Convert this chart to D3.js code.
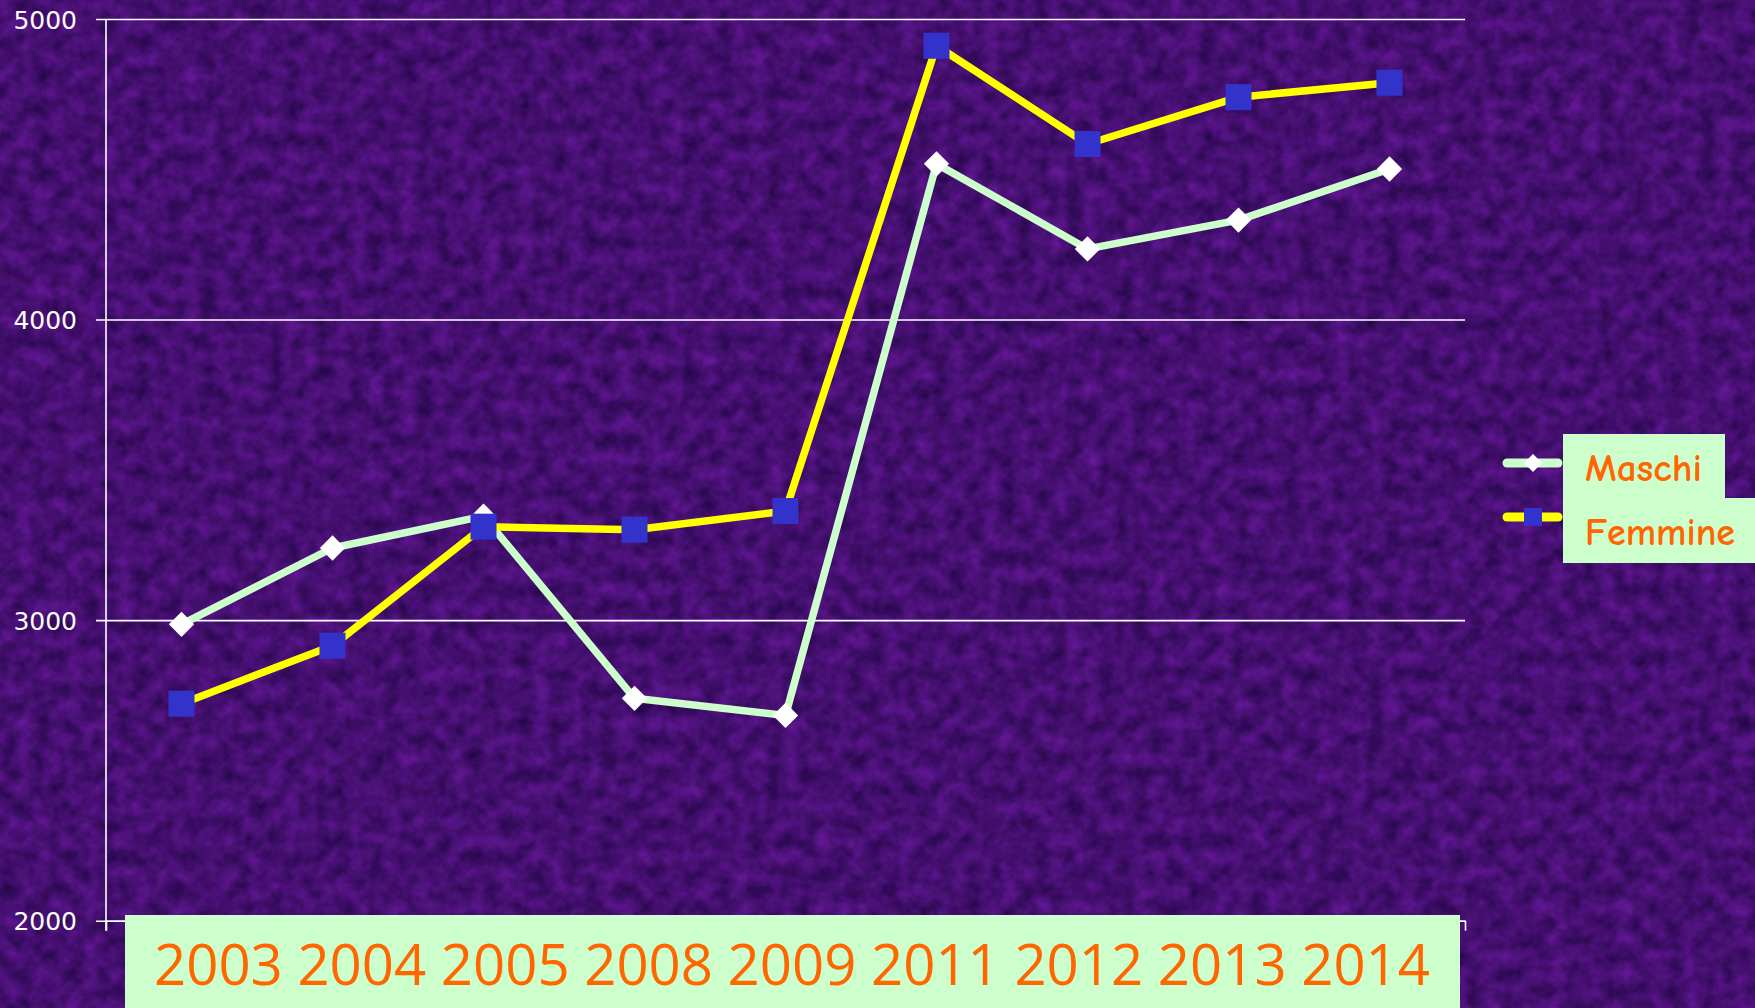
<!DOCTYPE html>
<html>
<head>
<meta charset="utf-8">
<script src="https://cdn.jsdelivr.net/npm/d3@7"></script>
<style>
  html, body { margin: 0; padding: 0; background: #4a1181; overflow: hidden; }
  svg { display: block; }
</style>
</head>
<body>
<svg id="chart" width="1755" height="1008"></svg>
<script>
// ---- Data ----
const categories = ["2003", "2004", "2005", "2008", "2009", "2011", "2012", "2013", "2014"];
const maschi  = [2986, 3240, 3346, 2740, 2683, 4518, 4235, 4331, 4501];
const femmine = [2722, 2915, 3311, 3301, 3363, 4911, 4584, 4740, 4788];
const yTicks = [2000, 3000, 4000, 5000];
const seriesNames = ["Maschi", "Femmine"];

(function () {
const W = 1755, H = 1008;
const svg = d3.select("#chart");

const defs = svg.append("defs");
const f = defs.append("filter").attr("id", "tex")
  .attr("x", 0).attr("y", 0).attr("width", "100%").attr("height", "100%")
  .attr("color-interpolation-filters", "sRGB");
f.append("feTurbulence").attr("type", "fractalNoise")
  .attr("baseFrequency", "0.06").attr("numOctaves", 3).attr("seed", 11).attr("result", "n");
f.append("feColorMatrix").attr("in", "n").attr("type", "matrix")
  .attr("values", "0.30 0 0 0 0.12  0.08 0 0 0 0.02  0.36 0 0 0 0.26  0 0 0 0 1");

svg.append("rect").attr("width", W).attr("height", H).attr("fill", "#4a1181");
svg.append("rect").attr("width", W).attr("height", H).attr("filter", "url(#tex)");

const pLeft = 106, pRight = 1465, pTop = 19, pBottom = 920.7;

const x = d3.scaleBand().domain(categories).range([pLeft, pRight]).padding(0);
const y = d3.scaleLinear().domain([2000, 5000]).range([pBottom, pTop]);
const xc = d => x(d) + x.bandwidth() / 2;

// ---- Y axis with gridlines ----
const gridLen = pRight - (pLeft - 10);
const yAxis = d3.axisLeft(y).tickValues(yTicks).tickSize(gridLen).tickPadding(19)
  .tickFormat(d3.format("d"));
const gy = svg.append("g").attr("transform", `translate(${pRight},0)`).call(yAxis);
gy.select(".domain").remove();
gy.selectAll(".tick line").attr("stroke", "#ffffff").attr("stroke-width", 1.6);
gy.selectAll(".tick text").attr("fill", "#ffffff")
  .attr("font-family", "DejaVu Sans, sans-serif").attr("font-size", 25).attr("dy", "0.36em");

// vertical axis line
svg.append("line")
  .attr("x1", pLeft).attr("x2", pLeft)
  .attr("y1", y(5000)).attr("y2", y(2000) + 10)
  .attr("stroke", "#ffffff").attr("stroke-width", 1.6);

// ---- X axis tick marks at category boundaries ----
const xEdge = d3.scaleLinear().domain([0, categories.length]).range([pLeft, pRight]);
const xAxis = d3.axisBottom(xEdge).tickValues(d3.range(categories.length + 1))
  .tickSize(10).tickSizeOuter(0).tickFormat("");
const gx = svg.append("g").attr("transform", `translate(0,${y(2000)})`).call(xAxis);
gx.select(".domain").attr("stroke", "#ffffff").attr("stroke-width", 1.6);
gx.selectAll(".tick line").attr("stroke", "#ffffff").attr("stroke-width", 1.6);

// ---- Lines ----
const line = d3.line().x((d, i) => xc(categories[i])).y(d => y(d));

svg.append("path").datum(maschi).attr("d", line)
  .attr("fill", "none").attr("stroke", "#ccffcc").attr("stroke-width", 7.5)
  .attr("stroke-linejoin", "round");
svg.append("g").selectAll("path").data(maschi).join("path")
  .attr("d", d3.symbol().type(d3.symbolSquare).size(320))
  .attr("transform", (d, i) => `translate(${xc(categories[i])},${y(d)}) rotate(45)`)
  .attr("fill", "#ffffff");

svg.append("path").datum(femmine).attr("d", line)
  .attr("fill", "none").attr("stroke", "#ffff00").attr("stroke-width", 7.5)
  .attr("stroke-linejoin", "round");
svg.append("g").selectAll("rect").data(femmine).join("rect")
  .attr("x", (d, i) => xc(categories[i]) - 13)
  .attr("y", d => y(d) - 13)
  .attr("width", 26).attr("height", 26)
  .attr("fill", "#3333cc");

// ---- Category label box ----
svg.append("rect").attr("x", 125).attr("y", 915).attr("width", 1335).attr("height", 100)
  .attr("fill", "#ccffcc");
svg.append("text").attr("x", 154).attr("y", 985)
  .attr("font-family", "'Open Sans', sans-serif").attr("font-size", 57)
  .attr("fill", "#ff6600")
  .attr("textLength", 1276).attr("lengthAdjust", "spacingAndGlyphs")
  .text(categories.join(" "));

// ---- Legend ----
const lg = svg.append("g");
lg.append("rect").attr("x", 1563).attr("y", 434).attr("width", 162).attr("height", 66).attr("fill", "#ccffcc");
lg.append("rect").attr("x", 1563).attr("y", 498).attr("width", 200).attr("height", 65).attr("fill", "#ccffcc");

const legendY = [463, 517];
const legendBase = [481, 545];
const legendColors = ["#ccffcc", "#ffff00"];
const legendWidths = [117, 150];
seriesNames.forEach((name, i) => {
  lg.append("line").attr("x1", 1507).attr("x2", 1558)
    .attr("y1", legendY[i]).attr("y2", legendY[i])
    .attr("stroke", legendColors[i]).attr("stroke-width", 9).attr("stroke-linecap", "round");
  if (i === 0) {
    lg.append("path").attr("d", d3.symbol().type(d3.symbolSquare).size(160))
      .attr("transform", `translate(1533,${legendY[i]}) rotate(45)`).attr("fill", "#ffffff");
  } else {
    lg.append("rect").attr("x", 1524).attr("y", legendY[i] - 9).attr("width", 18).attr("height", 18)
      .attr("fill", "#3333cc");
  }
  lg.append("text").attr("x", 1585).attr("y", legendBase[i])
    .attr("font-family", "'Comic Sans MS', 'Comic Neue', 'DejaVu Sans', sans-serif")
    .attr("font-size", 38).attr("font-weight", "bold").attr("fill", "#ff6600")
    .attr("textLength", legendWidths[i]).attr("lengthAdjust", "spacingAndGlyphs")
    .text(name);
});
})();
</script>
</body>
</html>
